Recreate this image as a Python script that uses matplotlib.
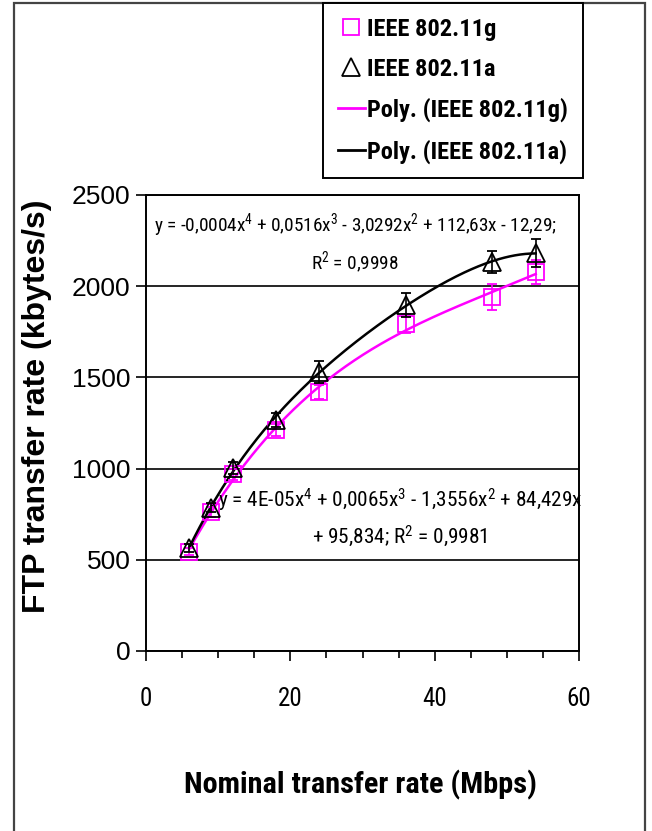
import matplotlib
import matplotlib.pyplot as plt
import numpy as np
from matplotlib import font_manager
from matplotlib.patches import Rectangle

matplotlib.use("Agg")

# 데이터
rates = [6, 9, 12, 18, 24, 36, 48, 54]
g_rate = [545, 762, 968, 1211, 1420, 1795, 1941, 2078]
g_err = [20, 25, 30, 35, 40, 50, 70, 66]
a_rate = [565, 786, 1003, 1266, 1530, 1897, 2132, 2182]
a_err = [20, 25, 35, 40, 60, 65, 60, 75]

g_label = "IEEE 802.11g"
a_label = "IEEE 802.11a"
g_eq = "y = 4E-05x$^{4}$ + 0,0065x$^{3}$ - 1,3556x$^{2}$ + 84,429x\n+ 95,834; R$^{2}$ = 0,9981"
a_eq = "y = -0,0004x$^{4}$ + 0,0516x$^{3}$ - 3,0292x$^{2}$ + 112,63x - 12,29;\nR$^{2}$ = 0,9998"

MAGENTA = "#FF00FF"


def _is_bold(f) -> bool:
    w = f.weight
    if isinstance(w, str):
        return w in ("bold", "heavy", "black", "extra bold", "demibold", "semibold")
    return w >= 600


def _pick_narrow_font():
    """좁은 글꼴 찾기 (굵은 글꼴이 있는 패밀리 우선, 없으면 크기를 줄여서 사용)"""
    fonts = font_manager.fontManager.ttflist
    cands = {}
    for f in fonts:
        if "Narrow" in f.name or "Condensed" in f.name:
            cands.setdefault(f.name, []).append(f)
    prefer = ["Liberation Sans Narrow", "Roboto Condensed", "Noto Sans Condensed",
              "DejaVu Sans Condensed", "Open Sans Condensed"]
    order = [n for n in prefer if n in cands] + sorted(n for n in cands if n not in prefer)
    for name in order:
        has_bold = any(_is_bold(f) for f in cands[name])
        has_reg = any(not _is_bold(f) for f in cands[name])
        if has_bold and has_reg:
            return name, 1.0
    if order:
        return order[0], 1.0
    return "Liberation Sans", 0.86


NARROW, K = _pick_narrow_font()
plt.rcParams["font.family"] = [NARROW, "DejaVu Sans"]
plt.rcParams["mathtext.fontset"] = "custom"
plt.rcParams["mathtext.rm"] = NARROW
plt.rcParams["mathtext.it"] = NARROW

W, H = 652, 831
fig = plt.figure(figsize=(W / 100, H / 100), dpi=100)
fig.patch.set_facecolor("white")
ax = fig.add_axes([146 / W, 180 / H, 433 / W, 456 / H])

# 측정값 + 오차 막대
ax.errorbar(rates, g_rate, yerr=g_err, fmt="s", color=MAGENTA, mfc="none",
            mec=MAGENTA, ms=12, mew=1.3, elinewidth=1.2, capsize=3.5, zorder=4)
ax.errorbar(rates, a_rate, yerr=a_err, fmt="^", color="black", mfc="none",
            mec="black", ms=12.5, mew=1.3, elinewidth=1.2, capsize=3.5, zorder=5)

# 4차 다항식 추세선
xs = np.linspace(rates[0], rates[-1], 200)
g_fit = np.polyval(np.polyfit(rates, g_rate, 4), xs)
a_fit = np.polyval(np.polyfit(rates, a_rate, 4), xs)
ax.plot(xs, g_fit, color=MAGENTA, lw=1.8, zorder=3)
ax.plot(xs, a_fit, color="black", lw=1.8, zorder=3)

ax.set_xlim(0, 60)
ax.set_ylim(0, 2500)
ax.set_xticks([0, 20, 40, 60])
ax.set_xticks(np.arange(0, 61, 5), minor=True)
ax.set_yticks(np.arange(0, 2501, 500))
ax.yaxis.grid(True, color="black", lw=1.2)
ax.set_axisbelow(True)
for s in ax.spines.values():
    s.set_linewidth(1.4)
    s.set_color("black")
ax.tick_params(axis="x", which="major", direction="out", length=7, width=1.2,
               pad=19, labelsize=18 * K)
ax.tick_params(axis="x", which="minor", direction="out", length=5, width=1.2)
ax.tick_params(axis="y", direction="out", length=7, width=1.2, pad=4)
for lab in ax.get_yticklabels():
    lab.set_fontfamily("Liberation Sans")
    lab.set_fontsize(19)

# 축 제목
fig.text(361 / W, 1 - 785 / H, "Nominal transfer rate (Mbps)", ha="center",
         va="center", fontsize=21.8 * K, fontweight="bold")
fig.text(37 / W, 1 - 406 / H, "FTP transfer rate (kbytes/s)", ha="center",
         va="center", rotation=90, fontsize=23, fontweight="bold",
         family="Liberation Sans")

# 추세선 수식
fig.text(355 / W, 1 - 244 / H, a_eq, ha="center", va="center",
         fontsize=13.9 * K, linespacing=1.55)
fig.text(400 / W, 1 - 518 / H, g_eq, ha="center", va="center",
         fontsize=15.3 * K, linespacing=1.5)

# 범례
h_g = plt.Line2D([], [], ls="none", marker="s", ms=12, mfc="none", mec=MAGENTA, mew=1.3)
h_a = plt.Line2D([], [], ls="none", marker="^", ms=12.5, mfc="none", mec="black", mew=1.3)
h_gl = plt.Line2D([], [], color=MAGENTA, lw=2)
h_al = plt.Line2D([], [], color="black", lw=2)
leg = fig.legend([h_g, h_a, h_gl, h_al],
                 [g_label, a_label, f"Poly. ({g_label})", f"Poly. ({a_label})"],
                 loc="upper left", bbox_to_anchor=(323 / W, 1 - 3 / H),
                 prop={"weight": "bold", "size": 17.6 * K}, frameon=True,
                 fancybox=False, edgecolor="black", framealpha=1,
                 handlelength=1.1, handletextpad=0.12, labelspacing=0.7,
                 borderpad=0.6, borderaxespad=0)
leg.get_frame().set_linewidth(1.4)

# 그림 테두리
fig.patches.append(Rectangle((14 / W, -0.05), 631 / W, 1.05 - 3 / H,
                             transform=fig.transFigure, fill=False,
                             edgecolor="#444444", lw=1.6, zorder=0))

fig.savefig("out.png", dpi=100, facecolor="white")
